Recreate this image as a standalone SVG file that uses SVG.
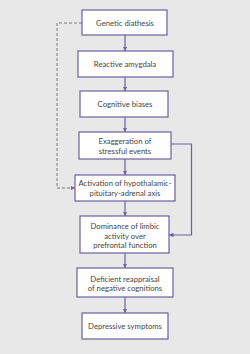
<svg xmlns="http://www.w3.org/2000/svg" width="250" height="354" viewBox="0 0 250 354">
<defs>
<style>
.box{fill:#fff;stroke:#6e5f9e;stroke-width:1.2}
.t{font-family:Lato,"Open Sans",sans-serif;font-size:7.7px;fill:#454545;text-anchor:middle}
.c{fill:none;stroke:#6e5f9e;stroke-width:1.2}
.d{fill:none;stroke:#7a7a7a;stroke-width:1;stroke-dasharray:3,2}
</style>
<marker id="a" viewBox="0 0 6 6" refX="6" refY="3" markerWidth="4.5" markerHeight="4.5" orient="auto" markerUnits="userSpaceOnUse"><path d="M0,0L6,3L0,6z" fill="#6e5f9e"/></marker>
</defs>
<rect width="250" height="354" fill="#e8e8e8"/>
<g id="connectors">
<line class="c" x1="125" y1="35" x2="125" y2="51" marker-end="url(#a)"/>
<line class="c" x1="125" y1="77" x2="125" y2="91" marker-end="url(#a)"/>
<line class="c" x1="125" y1="117" x2="125" y2="132" marker-end="url(#a)"/>
<line class="c" x1="125" y1="159" x2="125" y2="175" marker-end="url(#a)"/>
<line class="c" x1="125" y1="201" x2="125" y2="216" marker-end="url(#a)"/>
<line class="c" x1="125" y1="253" x2="125" y2="268" marker-end="url(#a)"/>
<line class="c" x1="125" y1="297" x2="125" y2="313" marker-end="url(#a)"/>
<polyline class="c" points="171,144 191.5,144 191.5,235 169,235" marker-end="url(#a)"/>
<polyline class="d" points="82,23 57,23 57,188 75,188" marker-end="url(#a)"/>
</g>
<g id="n1"><rect class="box" x="82" y="10" width="85" height="25"/><text class="t" x="125" y="25.5">Genetic diathesis</text></g>
<g id="n2"><rect class="box" x="78" y="51" width="95" height="26"/><text class="t" x="125" y="66.5">Reactive amygdala</text></g>
<g id="n3"><rect class="box" x="80" y="91" width="88" height="26"/><text class="t" x="125" y="106.5">Cognitive biases</text></g>
<g id="n4"><rect class="box" x="79" y="132" width="92" height="27"/><text class="t" x="125" y="143.5">Exaggeration of</text><text class="t" x="125" y="153.5">stressful events</text></g>
<g id="n5"><rect class="box" x="75" y="175" width="100" height="26"/><text class="t" x="125" y="185.5">Activation of hypothalamic-</text><text class="t" x="125" y="195.5">pituitary-adrenal axis</text></g>
<g id="n6"><rect class="box" x="80" y="216" width="89" height="37"/><text class="t" x="125" y="228.5">Dominance of limbic</text><text class="t" x="125" y="238.5">activity over</text><text class="t" x="125" y="248">prefrontal function</text></g>
<g id="n7"><rect class="box" x="77" y="268" width="96" height="29"/><text class="t" x="125" y="281.5">Deficient reappraisal</text><text class="t" x="125" y="291">of negative cognitions</text></g>
<g id="n8"><rect class="box" x="82" y="313" width="86" height="26"/><text class="t" x="125" y="328.5">Depressive symptoms</text></g>
</svg>
